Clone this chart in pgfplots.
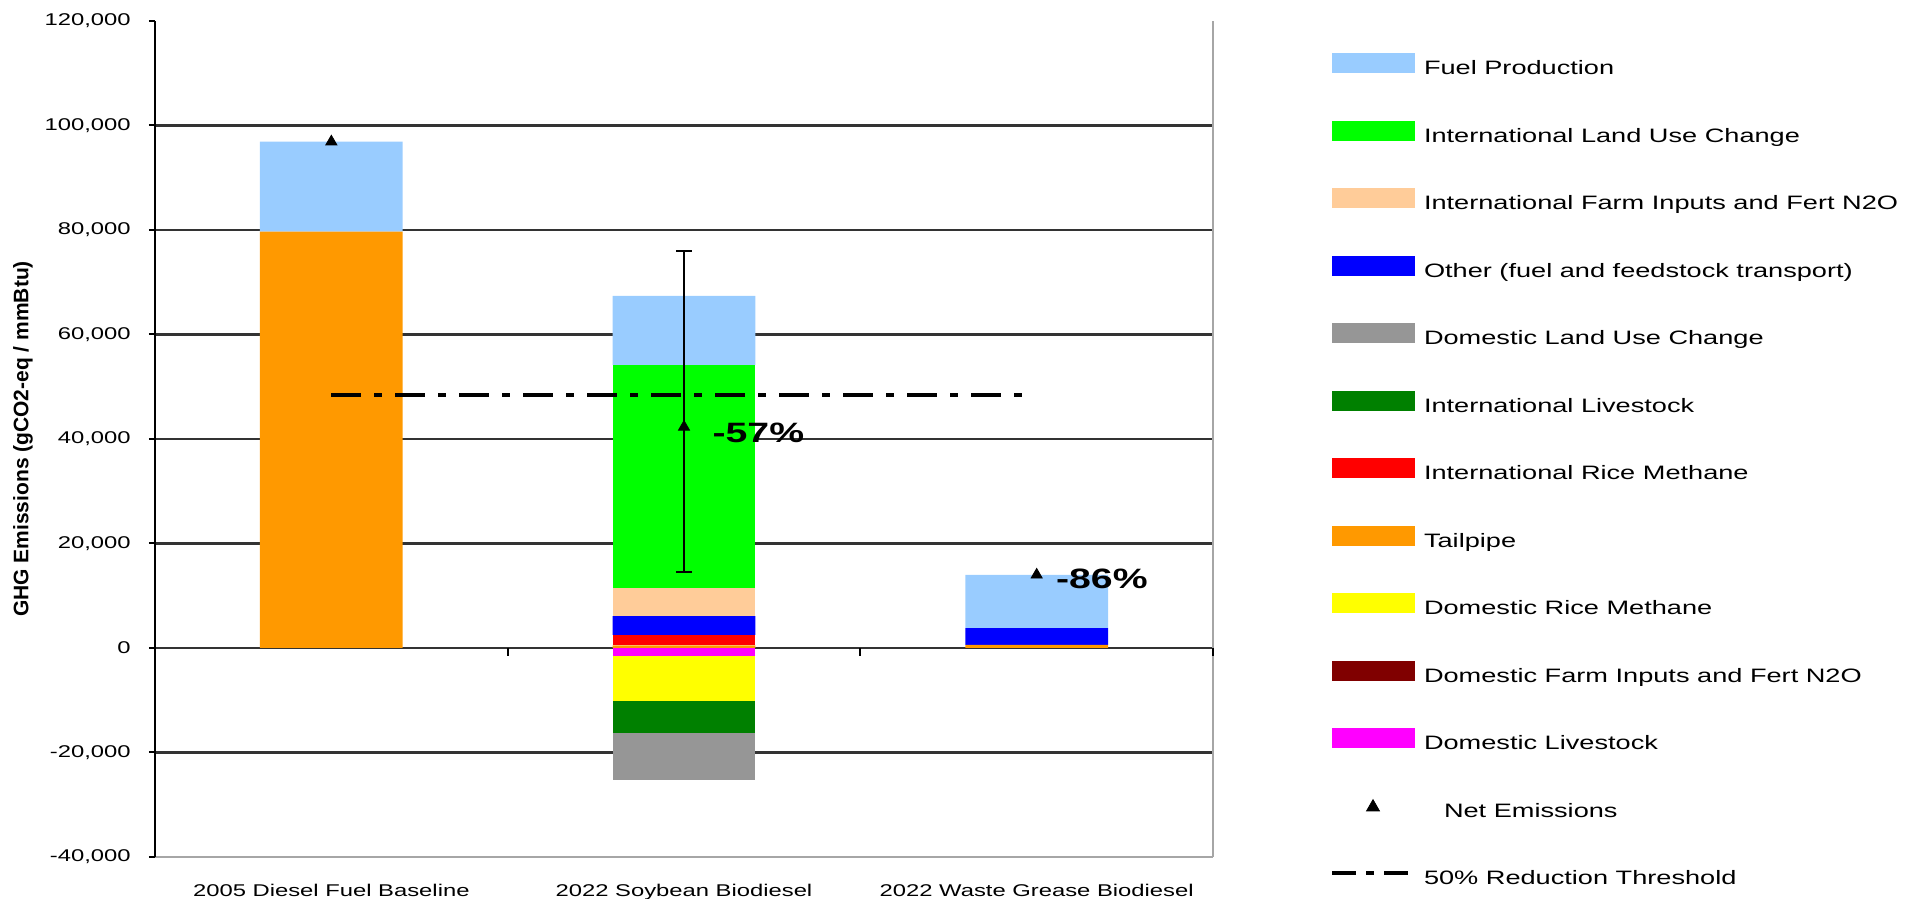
\documentclass[border=0pt]{standalone}
\usepackage{fontspec}
\setmainfont{Liberation Sans}
\newfontfamily\wide[FakeStretch=1.4]{Liberation Sans}
\usepackage{pgfplots}
\pgfplotsset{compat=1.18}

\definecolor{fuelprod}{HTML}{99CCFF}
\definecolor{iluc}{HTML}{00FF00}
\definecolor{ifarm}{HTML}{FFCC99}
\definecolor{other}{HTML}{0000FF}
\definecolor{dluc}{HTML}{969696}
\definecolor{ilive}{HTML}{008000}
\definecolor{irice}{HTML}{FF0000}
\definecolor{tailpipe}{HTML}{FF9900}
\definecolor{drice}{HTML}{FFFF00}
\definecolor{dfarm}{HTML}{800000}
\definecolor{dlive}{HTML}{FF00FF}

% legend swatch
\newcommand\sw[1]{\addlegendimage{legend image code/.code={\fill[#1] (0bp,-1.25bp) rectangle (41bp,8.25bp);}}}

\begin{document}
\begin{tikzpicture}
\useasboundingbox (-77.5bp,-21bp) rectangle (879.5bp,428.5bp);

% stacked bars (negative values stack separately below zero)
\begin{axis}[
  at={(0,0)}, anchor=south west,
  scale only axis, width=529bp, height=418bp,
  xmin=-0.5, xmax=2.5, ymin=-40000, ymax=120000,
  clip=false,
  ybar stacked, bar width=71.4bp,
  axis y line*=left, axis x line*=bottom,
  x axis line style={draw=gray!70, line width=1bp},
  y axis line style={black, line width=1bp},
  xtick={0,1,2},
  xticklabels={2005 Diesel Fuel Baseline, 2022 Soybean Biodiesel, 2022 Waste Grease Biodiesel},
  xtick style={draw=none},
  ytick={-20000,0,20000,40000,60000,80000,100000},
  yticklabels={{-20,000},0,{20,000},{40,000},{60,000},{80,000},{100,000}},
  extra y ticks={-40000,120000},
  extra y tick labels={{-40,000},{120,000}},
  extra y tick style={grid=none},
  ymajorgrids, grid style={black!80, line width=1.2bp},
  ytick style={black, line width=1bp},
  tick align=outside, major tick length=3bp,
  yticklabel style={font=\wide\fontsize{8.5bp}{10bp}\selectfont, inner sep=0pt, xshift=-9bp},
  xticklabel style={font=\wide\fontsize{8.5bp}{10bp}\selectfont, inner sep=0pt, anchor=base, yshift=-17bp},
  ylabel={GHG Emissions (gCO2-eq / mmBtu)},
  ylabel style={font=\bfseries\fontsize{10.5bp}{12bp}\selectfont, at={(axis description cs:-0.1248,0.5)}, anchor=center},
]
\addplot[fill=dlive, draw=none] coordinates {(0,0) (1,-1500) (2,0)};
\addplot[fill=drice, draw=none] coordinates {(0,0) (1,-8700) (2,0)};
\addplot[fill=ilive, draw=none] coordinates {(0,0) (1,-6000) (2,0)};
\addplot[fill=dluc, draw=none] coordinates {(0,0) (1,-9100) (2,0)};
\addplot[fill=tailpipe, draw=none] coordinates {(0,79700) (1,500) (2,600)};
\addplot[fill=dfarm, draw=none] coordinates {(0,0) (1,0) (2,0)};
\addplot[fill=irice, draw=none] coordinates {(0,0) (1,2000) (2,0)};
\addplot[fill=other, draw=none] coordinates {(0,0) (1,3600) (2,3200)};
\addplot[fill=ifarm, draw=none] coordinates {(0,0) (1,5400) (2,0)};
\addplot[fill=iluc, draw=none] coordinates {(0,0) (1,42700) (2,0)};
\addplot[fill=fuelprod, draw=none] coordinates {(0,17200) (1,13200) (2,10200)};
\draw[black, line width=1bp] (axis cs:0.5,0) -- (axis cs:0.5,-1500);
\draw[black, line width=1bp] (axis cs:1.5,0) -- (axis cs:1.5,-1500);
\draw[black, line width=1bp] (axis cs:2.5,0) -- (axis cs:2.5,-1500);
\draw[gray!70, line width=1.2bp] (axis cs:2.5,-40000) -- (axis cs:2.5,120000);
\end{axis}

% net emissions, threshold and legend
\begin{axis}[
  at={(0,0)}, anchor=south west,
  scale only axis, width=529bp, height=418bp,
  xmin=-0.5, xmax=2.5, ymin=-40000, ymax=120000,
  hide axis, clip=false,
  legend cell align=left,
  legend style={at={(1.1106,0.9818)}, anchor=north west, draw=none, fill=none,
    inner sep=0pt, outer sep=0pt, row sep=0pt, column sep=4bp,
    font=\wide\fontsize{9.7bp}{11bp}\selectfont,
    nodes={inner sep=0pt, minimum height=33.75bp, text height=7bp, text depth=2bp}},
]
\addplot[forget plot, black, line width=2bp, dash pattern=on 15bp off 6.5bp on 4bp off 6.5bp]
  coordinates {(0,48450) (1.98,48450)};
\addplot[forget plot, only marks, mark=triangle*, mark size=3.2bp, black,
  error bars/.cd, y dir=both, y explicit,
  error bar style={line width=1.2bp, black},
  error mark options={rotate=90, line width=1.2bp, mark size=4bp, black}]
  coordinates {(1,42300) += (0,33700) -= (0,27800)};
\addplot[forget plot, only marks, mark=triangle*, mark size=3.2bp, black]
  coordinates {(0,96900) (2,14000)};
\node[anchor=west, font=\wide\bfseries\fontsize{14bp}{16bp}\selectfont, inner sep=0pt] at (axis cs:1.08,41100) {-57\%};
\node[anchor=west, font=\wide\bfseries\fontsize{14bp}{16bp}\selectfont, inner sep=0pt] at (axis cs:2.054,13300) {-86\%};

\sw{fuelprod}\addlegendentry{Fuel Production}
\sw{iluc}\addlegendentry{International Land Use Change}
\sw{ifarm}\addlegendentry{International Farm Inputs and Fert N2O}
\sw{other}\addlegendentry{Other (fuel and feedstock transport)}
\sw{dluc}\addlegendentry{Domestic Land Use Change}
\sw{ilive}\addlegendentry{International Livestock}
\sw{irice}\addlegendentry{International Rice Methane}
\sw{tailpipe}\addlegendentry{Tailpipe}
\sw{drice}\addlegendentry{Domestic Rice Methane}
\sw{dfarm}\addlegendentry{Domestic Farm Inputs and Fert N2O}
\sw{dlive}\addlegendentry{Domestic Livestock}
\addlegendimage{legend image code/.code={\fill[black] (17.3bp,0.8bp) -- (23.7bp,0.8bp) -- (20.5bp,6.4bp) -- cycle;}}
\addlegendentry{\hspace*{10bp}Net Emissions}
\addlegendimage{legend image code/.code={\draw[black, line width=2bp, dash pattern=on 12bp off 5bp on 4bp off 5bp] (0bp,3.5bp) -- (41bp,3.5bp);}}
\addlegendentry{50\% Reduction Threshold}
\end{axis}
\end{tikzpicture}
\end{document}
